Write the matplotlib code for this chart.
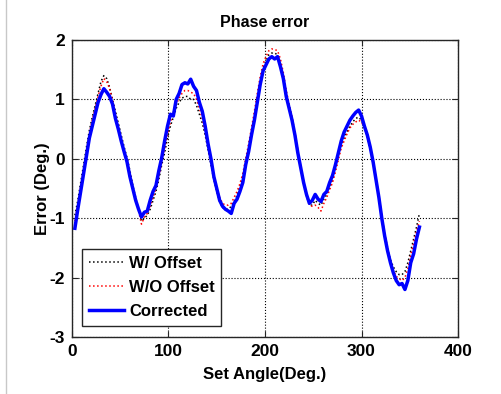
import numpy as np
import matplotlib.pyplot as plt
from matplotlib.lines import Line2D

# set angle (deg.)
angle = [3, 6, 9, 12, 15, 18, 21, 24, 27, 30, 33, 36, 39, 42, 45, 48, 51, 54, 57, 60,
         63, 66, 69, 72, 75, 78, 81, 84, 87, 90, 93, 96, 99, 102, 105, 108, 111, 114, 117, 120,
         123, 126, 129, 132, 135, 138, 141, 144, 147, 150, 153, 156, 159, 162, 165, 168, 171, 174, 177, 180,
         183, 186, 189, 192, 195, 198, 201, 204, 207, 210, 213, 216, 219, 222, 225, 228, 231, 234, 237, 240,
         243, 246, 249, 252, 255, 258, 261, 264, 267, 270, 273, 276, 279, 282, 285, 288, 291, 294, 297, 300,
         303, 306, 309, 312, 315, 318, 321, 324, 327, 330, 333, 336, 339, 342, 345, 348, 351, 354, 357, 360]

# phase error (deg.)
w_offset = [-0.95, -0.70, -0.40, -0.10, 0.20, 0.48, 0.70, 0.90, 1.10, 1.30,
            1.40, 1.35, 1.20, 1.00, 0.80, 0.60, 0.40, 0.20, 0.02, -0.20,
            -0.45, -0.65, -0.85, -1.05, -1.00, -0.95, -0.85, -0.70, -0.55, -0.35,
            -0.10, 0.10, 0.35, 0.55, 0.70, 0.85, 0.95, 1.02, 1.05, 1.05,
            1.00, 1.00, 0.90, 0.75, 0.60, 0.40, 0.15, -0.10, -0.35, -0.55,
            -0.72, -0.82, -0.85, -0.85, -0.80, -0.72, -0.62, -0.48, -0.30, -0.05,
            0.20, 0.45, 0.72, 1.02, 1.30, 1.52, 1.65, 1.75, 1.78, 1.78,
            1.75, 1.62, 1.40, 1.10, 0.90, 0.68, 0.42, 0.12, -0.15, -0.40,
            -0.62, -0.78, -0.78, -0.70, -0.75, -0.78, -0.68, -0.60, -0.48, -0.35,
            -0.15, 0.05, 0.22, 0.35, 0.45, 0.55, 0.62, 0.68, 0.70, 0.65,
            0.52, 0.38, 0.15, -0.08, -0.35, -0.65, -0.98, -1.28, -1.52, -1.70,
            -1.82, -1.90, -1.95, -1.95, -1.90, -1.75, -1.55, -1.35, -1.15, -0.92]

wo_offset = [-1.05, -0.78, -0.48, -0.18, 0.12, 0.42, 0.65, 0.85, 1.05, 1.22,
             1.35, 1.30, 1.18, 0.98, 0.75, 0.55, 0.35, 0.15, -0.02, -0.25,
             -0.48, -0.68, -0.88, -1.10, -0.98, -0.92, -0.80, -0.65, -0.50, -0.30,
             -0.05, 0.18, 0.42, 0.62, 0.78, 0.92, 1.02, 1.10, 1.15, 1.15,
             1.12, 1.10, 1.00, 0.85, 0.68, 0.45, 0.20, -0.05, -0.30, -0.50,
             -0.65, -0.75, -0.78, -0.78, -0.75, -0.65, -0.55, -0.42, -0.25, 0.00,
             0.25, 0.52, 0.80, 1.10, 1.38, 1.60, 1.72, 1.82, 1.85, 1.84,
             1.82, 1.68, 1.45, 1.15, 0.92, 0.70, 0.45, 0.15, -0.12, -0.38,
             -0.62, -0.78, -0.80, -0.78, -0.82, -0.88, -0.75, -0.65, -0.52, -0.40,
             -0.22, -0.02, 0.18, 0.30, 0.42, 0.52, 0.58, 0.62, 0.65, 0.62,
             0.52, 0.38, 0.18, -0.05, -0.32, -0.62, -0.95, -1.25, -1.50, -1.72,
             -1.88, -1.98, -2.02, -2.05, -2.00, -1.85, -1.62, -1.42, -1.22, -1.05]

corrected = [-1.17, -0.85, -0.55, -0.25, 0.05, 0.35, 0.55, 0.75, 0.95, 1.08,
             1.18, 1.12, 1.05, 0.92, 0.68, 0.50, 0.30, 0.12, -0.05, -0.30,
             -0.50, -0.70, -0.85, -0.98, -0.90, -0.88, -0.70, -0.55, -0.45, -0.20,
             0.02, 0.30, 0.55, 0.75, 0.72, 1.00, 1.10, 1.25, 1.28, 1.26,
             1.34, 1.22, 1.15, 0.95, 0.80, 0.55, 0.25, 0.00, -0.30, -0.50,
             -0.70, -0.80, -0.85, -0.88, -0.92, -0.75, -0.68, -0.55, -0.40, -0.10,
             0.12, 0.40, 0.65, 0.95, 1.25, 1.48, 1.58, 1.68, 1.72, 1.68,
             1.72, 1.55, 1.35, 1.05, 0.85, 0.65, 0.40, 0.10, -0.15, -0.40,
             -0.60, -0.75, -0.70, -0.60, -0.68, -0.72, -0.60, -0.55, -0.40, -0.28,
             -0.10, 0.10, 0.30, 0.45, 0.55, 0.65, 0.72, 0.78, 0.82, 0.72,
             0.55, 0.40, 0.20, -0.05, -0.35, -0.65, -1.00, -1.30, -1.55, -1.75,
             -1.92, -2.05, -2.12, -2.10, -2.20, -2.05, -1.75, -1.60, -1.35, -1.15]

plt.rcParams['font.family'] = ['Liberation Sans', 'DejaVu Sans']
plt.rcParams['font.weight'] = 'bold'
plt.rcParams['axes.unicode_minus'] = False

fig = plt.figure(figsize=(5.01, 3.94), dpi=100)
ax = fig.add_axes([0.1437, 0.1447, 0.7705, 0.7538])

# grey edge line at the left of the screenshot
fig.add_artist(Line2D([0.012, 0.012], [0, 1], color='#c8c8c8', lw=1.0))

ax.plot(angle, w_offset, color='black', linestyle=':', lw=1.1, label='W/ Offset')
ax.plot(angle, wo_offset, color='red', linestyle=':', lw=1.1, label='W/O Offset')
ax.plot(angle, corrected, color='#0000ff', linestyle='-', lw=2.5, label='Corrected')

ax.set_xlim(0, 400)
ax.set_ylim(-3, 2)
ax.set_xticks([0, 100, 200, 300, 400])
ax.set_yticks([-3, -2, -1, 0, 1, 2])
ax.grid(True, color='black', linestyle=':', lw=0.8)
ax.tick_params(direction='in', top=True, right=True, length=4, width=0.8,
               labelsize=12.5, colors='#262626', pad=5)
for lab in ax.get_xticklabels() + ax.get_yticklabels():
    lab.set_fontweight('bold')
    lab.set_color('black')
for sp in ax.spines.values():
    sp.set_color('#262626')
    sp.set_linewidth(1.0)

ax.set_title('Phase error', fontsize=11.5, fontweight='bold', pad=9)
ax.set_xlabel('Set Angle(Deg.)', fontsize=12, fontweight='bold', labelpad=6)
ax.set_ylabel('Error (Deg.)', fontsize=12, fontweight='bold', labelpad=0)

leg = ax.legend(loc='lower left', bbox_to_anchor=(0.005, 0.01), fontsize=12,
                handlelength=2.1, handletextpad=0.3, borderpad=0.4,
                labelspacing=0.55, fancybox=False, framealpha=1.0)
leg.get_frame().set_edgecolor('#262626')
leg.get_frame().set_linewidth(1.0)
for t in leg.get_texts():
    t.set_fontweight('bold')

fig.savefig('out.png', dpi=100)
